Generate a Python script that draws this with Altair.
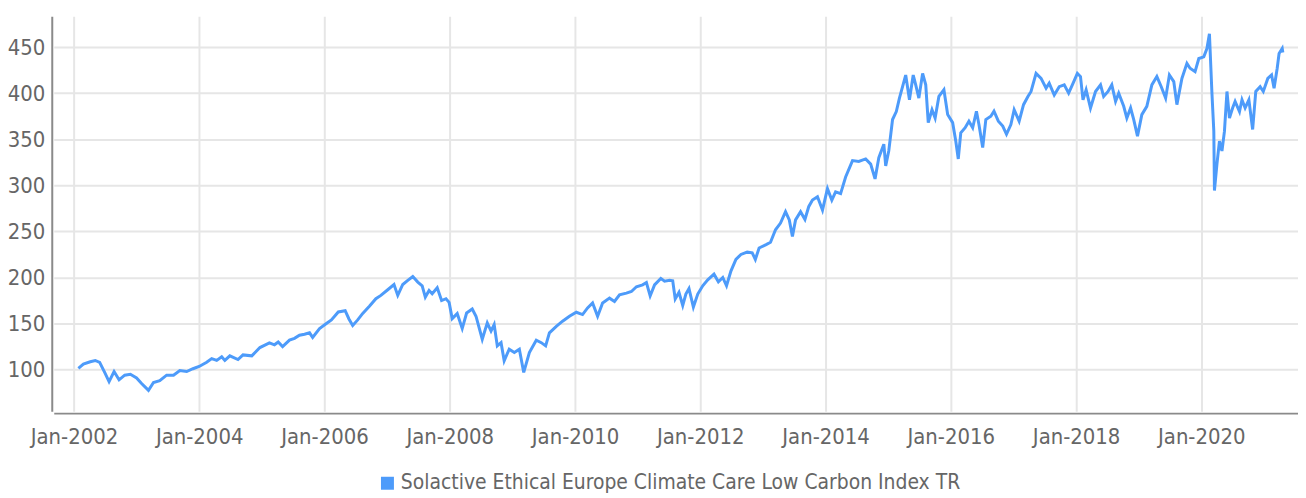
import altair as alt
import pandas as pd
import datetime as dt

# decimal-year time stamps and index levels
t_years = [
    2002.07, 2002.15, 2002.26, 2002.34, 2002.41, 2002.49, 2002.56, 2002.64, 2002.72, 2002.81,
    2002.90, 2003.00, 2003.08, 2003.19, 2003.27, 2003.37, 2003.48, 2003.59, 2003.69, 2003.80,
    2003.90, 2004.00, 2004.12, 2004.20, 2004.28, 2004.36, 2004.41, 2004.49, 2004.62, 2004.70,
    2004.84, 2004.97,
    2005.12, 2005.20, 2005.26, 2005.33, 2005.44, 2005.52, 2005.60, 2005.68, 2005.76, 2005.81,
    2005.92, 2006.03, 2006.11, 2006.22, 2006.33, 2006.39, 2006.45, 2006.53, 2006.61, 2006.72,
    2006.82, 2006.90, 2007.01, 2007.11, 2007.17, 2007.25, 2007.33, 2007.41, 2007.49, 2007.56,
    2007.61, 2007.67, 2007.72, 2007.80, 2007.87, 2007.94, 2007.99, 2008.04, 2008.12, 2008.20,
    2008.27, 2008.36, 2008.42, 2008.52, 2008.60, 2008.66, 2008.71, 2008.76, 2008.82, 2008.87,
    2008.95, 2009.03, 2009.11, 2009.18, 2009.27, 2009.38, 2009.46, 2009.53, 2009.59, 2009.70,
    2009.80, 2009.91, 2010.02, 2010.12, 2010.20, 2010.28, 2010.36, 2010.44, 2010.55, 2010.63,
    2010.71, 2010.82, 2010.90, 2010.98, 2011.08, 2011.14, 2011.20, 2011.27, 2011.37, 2011.43,
    2011.51, 2011.56,
    2011.60, 2011.66, 2011.72, 2011.77, 2011.82, 2011.89, 2011.96, 2012.04, 2012.12, 2012.22,
    2012.29, 2012.36, 2012.42, 2012.49, 2012.57, 2012.65, 2012.75, 2012.83, 2012.88, 2012.94,
    2013.05, 2013.12, 2013.20, 2013.28, 2013.36, 2013.42, 2013.47, 2013.52, 2013.60, 2013.67,
    2013.73, 2013.79, 2013.87, 2013.95, 2014.03, 2014.10, 2014.16, 2014.24, 2014.32, 2014.43,
    2014.53, 2014.64, 2014.72, 2014.79, 2014.85, 2014.93, 2014.96, 2015.01, 2015.07, 2015.13,
    2015.18, 2015.23, 2015.28, 2015.34, 2015.40, 2015.44, 2015.49, 2015.55, 2015.60, 2015.64,
    2015.70, 2015.75, 2015.81, 2015.89, 2015.95, 2016.03, 2016.08, 2016.12, 2016.16, 2016.23,
    2016.29, 2016.35, 2016.41, 2016.45, 2016.51, 2016.56, 2016.64, 2016.69, 2016.76, 2016.83,
    2016.89, 2016.96, 2017.01, 2017.09, 2017.16, 2017.23, 2017.28, 2017.36, 2017.44, 2017.52,
    2017.57, 2017.65, 2017.73, 2017.81, 2017.88, 2017.95,
    2018.02, 2018.07, 2018.11, 2018.16, 2018.23, 2018.31, 2018.39, 2018.44, 2018.51, 2018.57,
    2018.63, 2018.68, 2018.76, 2018.81, 2018.87, 2018.92, 2018.98, 2019.05, 2019.13, 2019.21,
    2019.29, 2019.36, 2019.43, 2019.49, 2019.56, 2019.61, 2019.69, 2019.77, 2019.82, 2019.90,
    2019.96, 2020.04, 2020.09, 2020.13, 2020.17, 2020.20, 2020.21, 2020.25, 2020.29, 2020.33,
    2020.37, 2020.41, 2020.45, 2020.50, 2020.54, 2020.61, 2020.65, 2020.70, 2020.76, 2020.82,
    2020.87, 2020.94, 2020.99, 2021.06, 2021.12, 2021.16, 2021.21, 2021.24, 2021.29, 2021.30,
]
index_values = [
    101.5, 106.0, 108.6, 110.0, 108.0, 97.0, 87.0, 98.0, 89.0, 94.0,
    95.0, 91.0, 85.0, 77.5, 86.0, 88.0, 94.0, 94.0, 99.0, 98.0,
    101.0, 103.5, 108.0, 112.0, 110.0, 114.0, 110.0, 115.0, 111.0, 116.0,
    115.0, 124.0,
    129.0, 127.0, 130.0, 125.0, 132.0, 134.0, 137.4, 138.5, 140.0, 135.0,
    144.6, 150.0, 154.0, 162.6, 164.0, 155.0, 148.0, 154.0, 161.0, 169.0,
    177.0, 180.6, 186.7, 192.4, 180.6, 192.4, 196.8, 201.0, 195.0, 191.0,
    178.8, 186.0, 182.4, 188.8, 175.0, 177.0, 173.0, 155.4, 160.8, 144.6,
    161.5, 165.8, 158.0, 133.0, 150.8, 141.9, 149.0, 125.8, 129.3, 109.7,
    122.2, 118.6, 122.2, 97.0, 118.6, 132.0, 129.3, 125.8, 140.0, 147.0,
    152.6, 158.0, 162.3, 159.8, 167.0, 172.3, 158.0, 172.3, 177.6, 174.0,
    181.2, 183.0, 184.8, 190.0, 192.0, 194.5, 180.0, 192.0, 199.0, 196.0,
    197.0, 196.4,
    176.8, 184.0, 169.6, 182.0, 188.0, 167.9, 182.0, 191.0, 197.5, 203.6,
    195.4, 200.0, 191.0, 207.0, 219.6, 225.0, 227.5, 226.8, 219.6, 232.0,
    235.7, 238.2, 251.8, 259.0, 271.4, 262.5, 244.6, 262.5, 271.4, 263.0,
    276.8, 284.0, 287.5, 273.2, 296.4, 284.0, 292.9, 291.0, 309.0, 326.8,
    326.0, 328.6, 323.0, 307.0, 330.0, 344.6, 321.0, 337.5, 371.4, 380.0,
    394.6, 407.0, 419.6, 392.9, 419.6, 409.0, 394.6, 421.4, 409.0, 368.0,
    382.0, 373.0, 396.4, 403.6, 376.8, 368.0, 348.0, 328.6, 357.0, 362.5,
    369.6, 362.5, 380.4, 366.0, 341.0, 371.4, 375.0, 380.4, 369.6, 364.3,
    355.4, 366.0, 382.0, 369.6, 387.5, 396.4, 401.8, 421.4, 416.0, 405.4,
    410.7, 398.0, 407.0, 409.0, 400.0, 410.7,
    421.5, 418.0, 392.8, 403.6, 383.9, 401.8, 409.0, 396.4, 401.8, 409.0,
    391.0, 400.0, 385.7, 373.0, 383.9, 371.3, 353.4, 376.7, 385.7, 409.0,
    418.0, 407.0, 394.6, 419.7, 412.5, 387.5, 416.0, 432.3, 427.0, 423.3,
    437.6, 439.4, 448.4, 464.5, 400.0, 358.8, 294.3, 323.0, 348.0, 337.3,
    358.8, 401.8, 373.0, 383.9, 391.0, 380.0, 392.8, 383.9, 392.8, 360.6,
    401.8, 407.0, 401.8, 416.0, 419.7, 405.4, 427.0, 443.0, 448.4, 444.0,
]
series_name = "Solactive Ethical Europe Climate Care Low Carbon Index TR"
tick_years = [2002, 2004, 2006, 2008, 2010, 2012, 2014, 2016, 2018, 2020]
y_ticks = [100, 150, 200, 250, 300, 350, 400, 450]


def to_date(y):
    yr = int(y)
    return (dt.datetime(yr, 1, 1) + dt.timedelta(days=(y - yr) * 365.25)).strftime("%Y-%m-%dT%H:%M:%S")


df = pd.DataFrame({
    "date": [to_date(y) for y in t_years],
    "value": index_values,
    "series": series_name,
})

FONT = "DejaVu Sans Condensed, Roboto, sans-serif"
TXT = "#666666"
BLUE = "#4d9bfa"

chart = alt.Chart(df).mark_line(strokeWidth=3, color=BLUE).encode(
    x=alt.X(
        "date:T",
        scale=alt.Scale(domain=[alt.DateTime(year=2001, month=9, date=5),
                                alt.DateTime(year=2021, month=7, date=18)]),
        axis=alt.Axis(
            values=[alt.DateTime(year=y, month=1, date=1) for y in tick_years],
            format="%b-%Y", title=None, grid=True, ticks=False, tickSize=0,
            labelPadding=14, offset=2,
        ),
    ),
    y=alt.Y(
        "value:Q",
        scale=alt.Scale(domain=[55, 483.4], nice=False, zero=False),
        axis=alt.Axis(values=y_ticks, title=None, grid=True, ticks=False, tickSize=0,
                      labelPadding=7, offset=2),
    ),
    color=alt.Color(
        "series:N",
        scale=alt.Scale(range=[BLUE]),
        legend=alt.Legend(
            title=None, orient="none", legendX=325, legendY=459,
            symbolType="square", symbolSize=170, symbolFillColor=BLUE,
            symbolStrokeWidth=0, labelLimit=0, labelOffset=3,
            labelFontSize=21, labelFont=FONT, labelColor=TXT,
        ),
    ),
).properties(
    width=1251, height=397,
    padding={"left": 46, "top": 7, "right": 0, "bottom": 85},
    autosize=alt.AutoSizeParams(type="none"),
).configure_view(stroke=None).configure_axis(
    labelFont=FONT, labelFontSize=22, labelColor=TXT,
    domainColor="#8a8a8a", domainWidth=2,
    gridColor="#e6e6e6", gridWidth=2,
)

chart.save("out.html", embed_options={"renderer": "svg", "actions": False})
